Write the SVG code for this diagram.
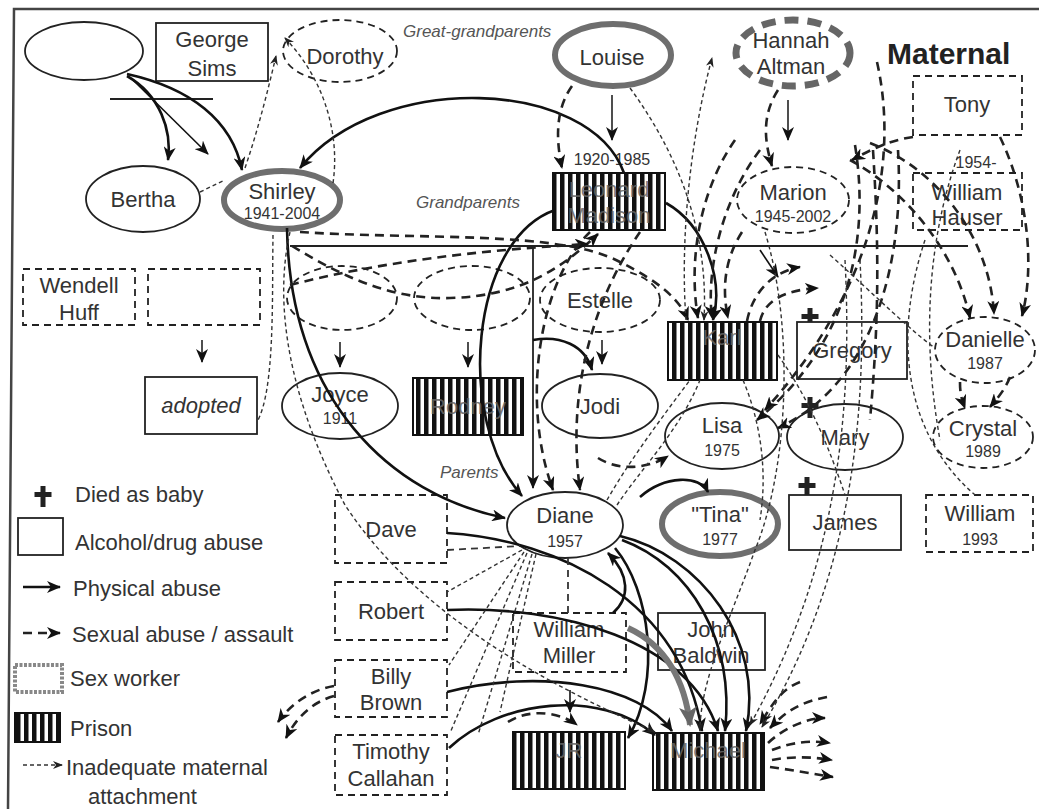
<svg xmlns="http://www.w3.org/2000/svg" width="1039" height="809" viewBox="0 0 1039 809">
<style>
.b{fill:#fff;stroke:#222;stroke-width:1.8}
.d{fill:#fff;stroke:#222;stroke-width:1.8;stroke-dasharray:7 5}
.g{fill:#fff;stroke:#6e6e6e;stroke-width:6}
.pr{fill:url(#bars);stroke:#111;stroke-width:2}
.t{font-family:"Liberation Sans",Arial,sans-serif;font-size:22px;fill:#333;text-anchor:middle}
.y{font-size:16px}
.o{fill:#666;opacity:0.85}
.i{font-family:"Liberation Sans",Arial,sans-serif;font-style:italic;font-size:17px;fill:#555}
.lg{font-family:"Liberation Sans",Arial,sans-serif;font-size:22px;fill:#333}
.ph{fill:none;stroke:#111;stroke-width:2.6;marker-end:url(#ah)}
.pt{fill:none;stroke:#111;stroke-width:1.6;marker-end:url(#ah)}
.sx{fill:none;stroke:#222;stroke-width:2.6;stroke-dasharray:9 6;marker-end:url(#ah)}
.sn{fill:none;stroke:#222;stroke-width:2.6;stroke-dasharray:9 6}
.in{fill:none;stroke:#333;stroke-width:1.4;stroke-dasharray:4 3;marker-end:url(#as)}
.nn{fill:none;stroke:#333;stroke-width:1.4;stroke-dasharray:4 3}
.md{fill:none;stroke:#333;stroke-width:1.8;stroke-dasharray:7 5}
.cr{fill:#222}
</style>
<defs>
<pattern id="bars" width="8" height="10" patternUnits="userSpaceOnUse"><rect width="8" height="10" fill="#fff"/><rect width="4.5" height="10" fill="#111"/></pattern>
<marker id="ah" markerUnits="userSpaceOnUse" markerWidth="14" markerHeight="12" viewBox="0 0 14 12" refX="13" refY="6" orient="auto"><path d="M0,0 L14,6 L0,12 L4,6z" fill="#111"/></marker>
<marker id="as" markerUnits="userSpaceOnUse" markerWidth="10" markerHeight="8" viewBox="0 0 10 8" refX="9" refY="4" orient="auto"><path d="M0,0 L10,4 L0,8 L3,4z" fill="#222"/></marker>
<marker id="ag" markerUnits="userSpaceOnUse" markerWidth="20" markerHeight="18" viewBox="0 0 20 18" refX="18" refY="9" orient="auto"><path d="M0,0 L20,9 L0,18 L5,9z" fill="#666"/></marker>
<path id="cross" d="M-2.5,0 h5 v6 h6 v5 h-6 v10 h-5 v-10 h-6 v-5 h6z"/>
</defs>

<g id="frame" fill="none" stroke="#444" stroke-width="2.5">
<path d="M1039,9 L14,9 L8,809"/>
</g>

<g id="labels">
<text class="i" x="403" y="37">Great-grandparents</text>
<text class="i" x="416" y="208">Grandparents</text>
<text class="i" x="440" y="478">Parents</text>
<text x="887" y="64" font-family="Liberation Sans, Arial, sans-serif" font-size="30" font-weight="bold" fill="#222">Maternal</text>
</g>

<g id="lines" fill="none" stroke="#222" stroke-width="1.8">
<path d="M110,99 L213,99"/>
<path d="M290,246 L968,246"/>
<path d="M533,246 L533,488" marker-end="url(#ah)"/>
<path d="M612,95 L612,140" marker-end="url(#ah)" stroke-width="1.6"/>
<path d="M788,100 L788,140" marker-end="url(#ah)" stroke-width="1.6"/>
<path d="M202,340 L202,362" marker-end="url(#ah)" stroke-width="1.6"/>
<path d="M340,342 L340,367" marker-end="url(#ah)" stroke-width="1.6"/>
<path d="M468,342 L468,367" marker-end="url(#ah)" stroke-width="1.6"/>
<path d="M602,340 L602,364" marker-end="url(#ah)" stroke-width="1.6"/>
</g>

<g id="n-unknown1"><ellipse class="b" cx="84" cy="51" rx="59" ry="29"/></g>
<g id="n-george"><rect class="b" x="156" y="23" width="112" height="58"/><text class="t" x="212" y="47">George</text><text class="t" x="212" y="76">Sims</text></g>
<g id="n-dorothy"><ellipse class="d" cx="340" cy="51" rx="57" ry="31"/><text class="t" x="345" y="64">Dorothy</text></g>
<g id="n-louise"><ellipse class="g" cx="613" cy="55" rx="58" ry="31"/><text class="t" x="612" y="65">Louise</text></g>
<g id="n-hannah"><ellipse cx="793" cy="53" rx="57" ry="33" fill="#fff" stroke="#666" stroke-width="7" stroke-dasharray="14 9"/><text class="t" x="791" y="48">Hannah</text><text class="t" x="791" y="74">Altman</text></g>
<g id="n-tony"><rect class="d" x="913" y="76" width="109" height="59"/><text class="t" x="967" y="112">Tony</text></g>
<g id="n-bertha"><ellipse class="b" cx="143" cy="199" rx="57" ry="33"/><text class="t" x="143" y="207">Bertha</text></g>
<g id="n-shirley"><ellipse class="g" cx="282" cy="200" rx="58" ry="29"/><text class="t" x="282" y="199">Shirley</text><text class="t y" x="282" y="219">1941-2004</text></g>
<g id="n-leonard"><text class="t y" x="612" y="165">1920-1985</text><rect class="pr" x="553" y="173" width="112" height="57"/><text class="t o" x="609" y="197">Leonard</text><text class="t o" x="609" y="223">Madison</text></g>
<g id="n-marion"><ellipse class="d" cx="793" cy="200" rx="56" ry="33"/><text class="t" x="793" y="200">Marion</text><text class="t y" x="793" y="222">1945-2002</text></g>
<g id="n-hauser"><text class="t y" x="976" y="168">1954-</text><rect class="d" x="913" y="173" width="109" height="57"/><text class="t" x="967" y="200">William</text><text class="t" x="967" y="225">Hauser</text></g>

<g id="n-wendell"><rect class="d" x="23" y="269" width="112" height="56"/><text class="t" x="79" y="293">Wendell</text><text class="t" x="79" y="320">Huff</text></g>
<g id="n-unknown2"><rect class="d" x="148" y="269" width="112" height="56"/></g>
<g id="n-adopted"><rect class="b" x="145" y="377" width="112" height="57"/><text class="t" x="201" y="413" font-style="italic">adopted</text></g>
<g id="n-unknown3"><ellipse class="d" cx="342" cy="298" rx="55" ry="32"/></g>
<g id="n-unknown4"><ellipse class="d" cx="472" cy="298" rx="58" ry="32"/></g>
<g id="n-estelle"><ellipse class="d" cx="600" cy="300" rx="60" ry="32"/><text class="t" x="600" y="308">Estelle</text></g>
<g id="n-joyce"><ellipse class="b" cx="340" cy="406" rx="58" ry="33"/><text class="t" x="340" y="402">Joyce</text><text class="t y" x="340" y="424">1911</text></g>
<g id="n-rodney"><rect class="pr" x="413" y="378" width="110" height="57"/><text class="t o" x="468" y="414">Rodney</text></g>
<g id="n-jodi"><ellipse class="b" cx="600" cy="406" rx="58" ry="32"/><text class="t" x="600" y="414">Jodi</text></g>
<g id="n-karl"><rect class="pr" x="668" y="322" width="109" height="58"/><text class="t o" x="722" y="345">Karl</text></g>
<g id="n-gregory"><use href="#cross" class="cr" x="810" y="308"/><rect class="b" x="797" y="322" width="110" height="57"/><text class="t" x="852" y="358">Gregory</text></g>
<g id="n-danielle"><ellipse class="d" cx="985" cy="350" rx="50" ry="33"/><text class="t" x="985" y="347">Danielle</text><text class="t y" x="985" y="369">1987</text></g>
<g id="n-lisa"><ellipse class="b" cx="722" cy="436" rx="57" ry="33"/><text class="t" x="722" y="433">Lisa</text><text class="t y" x="722" y="456">1975</text></g>
<g id="n-mary"><ellipse class="b" cx="845" cy="437" rx="58" ry="33"/><use href="#cross" class="cr" x="810" y="397"/><text class="t" x="845" y="445">Mary</text></g>
<g id="n-crystal"><ellipse class="d" cx="983" cy="437" rx="50" ry="31"/><text class="t" x="983" y="436">Crystal</text><text class="t y" x="983" y="457">1989</text></g>

<g id="n-diane"><ellipse class="b" cx="565" cy="525" rx="58" ry="33"/><text class="t" x="565" y="523">Diane</text><text class="t y" x="565" y="547">1957</text></g>
<g id="n-tina"><ellipse class="g" cx="720" cy="524" rx="58" ry="32"/><text class="t" x="720" y="522">"Tina"</text><text class="t y" x="720" y="545">1977</text></g>
<g id="n-james"><use href="#cross" class="cr" x="807" y="477"/><rect class="b" x="789" y="495" width="112" height="55"/><text class="t" x="845" y="530">James</text></g>
<g id="n-william1993"><rect class="d" x="926" y="495" width="107" height="57"/><text class="t" x="980" y="521">William</text><text class="t y" x="980" y="545">1993</text></g>
<g id="n-dave"><rect class="d" x="335" y="495" width="112" height="68"/><text class="t" x="391" y="537">Dave</text></g>
<g id="n-robert"><rect class="d" x="335" y="582" width="112" height="58"/><text class="t" x="391" y="619">Robert</text></g>
<g id="n-billy"><rect class="d" x="335" y="660" width="112" height="57"/><text class="t" x="391" y="684">Billy</text><text class="t" x="391" y="710">Brown</text></g>
<g id="n-timothy"><rect class="d" x="335" y="735" width="112" height="60"/><text class="t" x="391" y="759">Timothy</text><text class="t" x="391" y="786">Callahan</text></g>
<g id="n-wmiller"><rect class="d" x="513" y="613" width="113" height="59"/><text class="t" x="569" y="637">William</text><text class="t" x="569" y="663">Miller</text></g>
<g id="n-john"><rect class="b" x="658" y="613" width="107" height="57"/><text class="t" x="711" y="637">John</text><text class="t" x="711" y="663">Baldwin</text></g>
<g id="n-jr"><rect class="pr" x="513" y="732" width="112" height="57"/><text class="t o" x="569" y="758">JR</text></g>
<g id="n-michael"><rect class="pr" x="653" y="733" width="111" height="57"/><text class="t o" x="708" y="758">Michael</text></g>

<g id="legend">
<use href="#cross" class="cr" x="43" y="486"/>
<text class="lg" x="75" y="502">Died as baby</text>
<rect class="b" x="18" y="518" width="45" height="37"/>
<text class="lg" x="75" y="550">Alcohol/drug abuse</text>
<path class="ph" d="M23,587 L60,587"/>
<text class="lg" x="73" y="596">Physical abuse</text>
<path class="sx" d="M23,633 L60,633" stroke-dasharray="7 4"/>
<text class="lg" x="72" y="642">Sexual abuse / assault</text>
<rect x="15" y="665" width="47" height="27" fill="#fff" stroke="#888" stroke-width="4" stroke-dasharray="3 1.5"/>
<text class="lg" x="70" y="686">Sex worker</text>
<rect class="pr" x="15" y="713" width="45" height="29"/>
<text class="lg" x="70" y="736">Prison</text>
<path class="in" d="M23,765 L62,765"/>
<text class="lg" x="66" y="775">Inadequate maternal</text>
<text class="lg" x="88" y="804">attachment</text>
</g>

<g id="connectors">
<path class="ph" d="M127,76 C160,95 172,130 168,160"/>
<path class="pt" d="M133,80 L208,154"/>
<path class="ph" d="M127,74 C190,88 232,120 242,170"/>
<path class="ph" d="M624,173 C590,78 380,70 300,168"/>
<path class="ph" d="M287,228 C290,400 390,495 505,518"/>
<path class="ph" d="M555,210 C470,240 455,420 522,496"/>
<path class="ph" d="M533,340 C560,335 585,345 592,370"/>
<path class="ph" d="M666,203 C705,225 724,280 713,320"/>
<path class="ph" d="M640,497 C665,475 700,475 708,492"/>
<path class="ph" d="M613,613 C630,598 630,575 608,553"/>
<path class="ph" d="M447,533 C560,540 680,600 702,731"/>
<path class="ph" d="M447,610 C560,605 690,640 718,731"/>
<path class="ph" d="M447,692 C540,668 640,685 672,731"/>
<path class="ph" d="M449,748 C500,700 600,688 655,735"/>
<path class="ph" d="M622,540 C690,565 735,640 725,731"/>
<path class="ph" d="M620,536 C700,555 765,640 746,731"/>
<path class="ph" d="M615,548 C650,590 662,680 628,738"/>
<path class="pt" d="M570,690 L570,712"/>
<path d="M628,628 C665,645 685,680 690,725" fill="none" stroke="#777" stroke-width="6" marker-end="url(#ag)"/>
<path class="pt" d="M760,250 L778,277"/>

<path class="sx" d="M572,86 C555,110 556,140 562,168"/>
<path class="sx" d="M778,90 C762,115 764,140 772,166"/>
<path class="sx" d="M292,246 C340,275 390,300 450,298 C520,296 560,270 598,234"/>
<path class="sx" d="M290,285 C380,262 480,250 588,244"/>
<path class="sx" d="M300,232 C420,240 560,230 620,262 C660,282 680,300 688,320"/>
<path class="sx" d="M590,232 C540,280 520,400 553,490"/>
<path class="sx" d="M640,232 C600,290 565,380 580,490"/>
<path class="sx" d="M598,458 C620,472 650,468 668,456"/>
<path class="sx" d="M334,686 C310,690 290,705 278,722"/>
<path class="sx" d="M334,696 C312,702 296,718 286,738"/>
<path class="sx" d="M508,722 C530,708 560,712 577,725"/>
<path class="sx" d="M747,321 C752,295 770,272 800,267"/>
<path class="sx" d="M760,321 C765,300 785,290 818,288"/>
<path class="sx" d="M735,140 C700,190 688,260 698,318"/>
<path class="sx" d="M760,150 C722,200 706,270 712,318"/>
<path class="sx" d="M742,232 C724,260 722,290 728,318"/>
<path class="sx" d="M877,62 C897,150 882,280 765,410"/>
<path class="sx" d="M855,145 C872,250 842,350 757,420"/>
<path class="sx" d="M898,150 C905,265 872,385 778,428"/>
<path class="sn" d="M873,150 C880,260 878,330 870,420"/>
<path class="sx" d="M1000,137 C1030,200 1034,270 1022,316"/>
<path class="sx" d="M870,143 C940,170 990,240 994,314"/>
<path class="sx" d="M850,160 C905,190 955,250 970,318"/>
<path class="sx" d="M913,137 C890,140 870,150 852,160"/>
<path class="sx" d="M960,382 C960,395 962,400 965,408"/>
<path class="sx" d="M1010,377 C1005,390 996,400 990,407"/>
<path class="sx" d="M800,682 C780,690 772,705 760,724"/>
<path class="sx" d="M827,697 C800,702 785,712 770,728"/>
<path class="sx" d="M768,743 C785,727 808,718 825,718"/>
<path class="sx" d="M772,750 C792,742 812,740 830,743"/>
<path class="sx" d="M772,760 C792,756 814,757 832,760"/>
<path class="sx" d="M770,767 C792,770 815,774 833,777"/>

<path class="in" d="M245,168 C258,130 268,90 276,56"/>
<path class="in" d="M333,183 C340,135 325,80 285,38"/>
<path class="nn" d="M200,192 L225,180"/>
<path class="in" d="M630,88 C690,170 708,250 704,320"/>
<path class="in" d="M686,320 C680,240 690,140 712,58"/>
<path class="in" d="M290,232 C270,320 300,420 345,505 C420,620 560,690 655,732"/>
<path class="nn" d="M273,235 C272,300 275,390 257,422"/>
<path class="md" d="M447,550 L520,546"/>
<path class="nn" d="M522,550 L447,592"/>
<path class="nn" d="M524,552 L449,665"/>
<path class="nn" d="M527,553 L450,733"/>
<path class="nn" d="M532,554 L478,735"/>
<path class="nn" d="M536,554 L500,712"/>
<path class="md" d="M568,558 L568,613"/>
<path class="nn" d="M607,500 C630,460 660,420 690,380"/>
<path class="nn" d="M617,505 C640,470 680,430 700,380"/>
<path class="in" d="M765,232 C795,330 788,470 755,550 C730,620 700,680 700,731"/>
<path class="nn" d="M743,380 C760,420 768,470 760,520"/>
<path class="nn" d="M778,355 C810,400 830,450 845,495"/>
<path class="in" d="M845,260 C852,400 842,560 750,725"/>
<path class="in" d="M860,260 C867,400 857,570 762,727"/>
<path class="nn" d="M830,255 C880,300 910,330 935,348"/>
<path class="nn" d="M925,240 C895,330 900,430 975,495"/>
<path class="nn" d="M960,150 C930,230 920,330 940,440"/>
</g>
</svg>
